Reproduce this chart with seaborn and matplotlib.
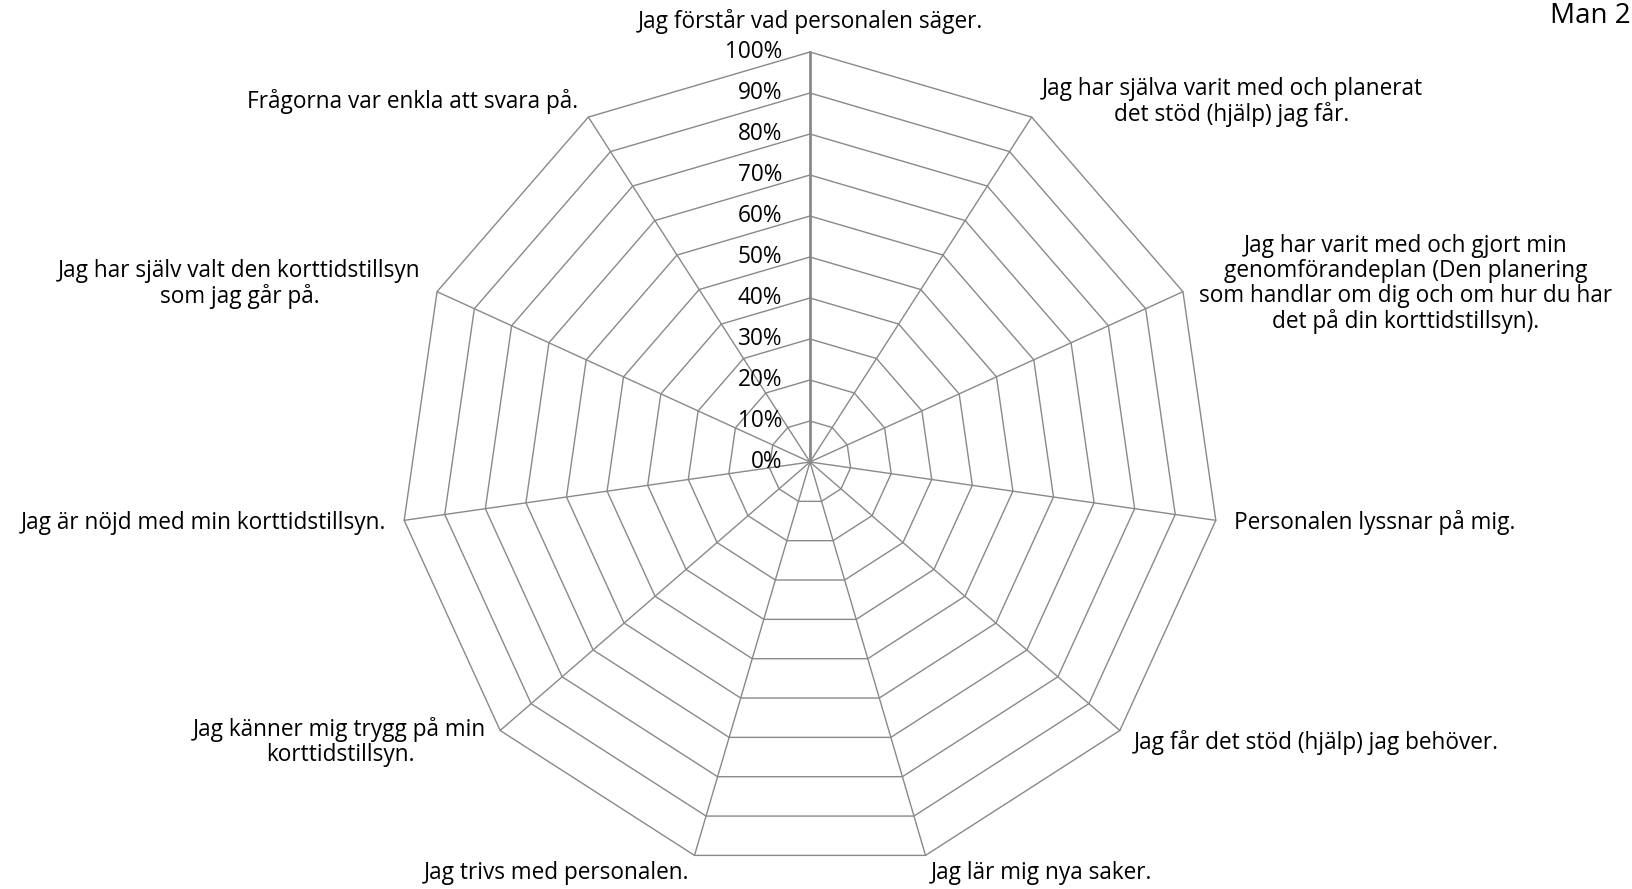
import numpy as np
import pandas as pd
import matplotlib
matplotlib.use("Agg")
import matplotlib.pyplot as plt
import seaborn as sns

categories = [
    "Jag förstår vad personalen säger.",
    "Jag har själva varit med och planerat\ndet stöd (hjälp) jag får.",
    "Jag har varit med och gjort min\ngenomförandeplan (Den planering\nsom handlar om dig och om hur du har\ndet på din korttidstillsyn).",
    "Personalen lyssnar på mig.",
    "Jag får det stöd (hjälp) jag behöver.",
    "Jag lär mig nya saker.",
    "Jag trivs med personalen.",
    "Jag känner mig trygg på min\nkorttidstillsyn.",
    "Jag är nöjd med min korttidstillsyn.",
    "Jag har själv valt den korttidstillsyn\nsom jag går på.",
    "Frågorna var enkla att svara på.",
]
levels = [0, 10, 20, 30, 40, 50, 60, 70, 80, 90, 100]
tick_labels = ["0%", "10%", "20%", "30%", "40%", "50%", "60%", "70%", "80%", "90%", "100%"]
title_text = "Man 2"

sns.set_theme(style="white")
plt.rcParams["font.family"] = ["Open Sans", "DejaVu Sans"]

W, H = 1633, 889
CX, CY = 810, 462      # centre in pixels (from top-left)
R = 410                # radius in pixels for 100%
GRID = "#898989"

fig = plt.figure(figsize=(W / 100, H / 100), dpi=100)
ax = fig.add_axes([0, 0, 1, 1])
ax.set_xlim(-CX, W - CX)
ax.set_ylim(-(H - CY), CY)
ax.set_axis_off()

n = len(categories)
angles = np.arange(n) * 2 * np.pi / n   # clockwise from top

# rings
rows = []
for lv in levels[1:]:
    r = lv / 100 * R
    for k in list(range(n)) + [0]:
        rows.append({"ring": lv, "x": r * np.sin(angles[k]), "y": r * np.cos(angles[k])})
rings = pd.DataFrame(rows)
sns.lineplot(data=rings, x="x", y="y", units="ring", estimator=None, sort=False,
             color=GRID, linewidth=1.0, legend=False, ax=ax)

# spokes
rows = []
for k in range(n):
    rows.append({"spoke": k, "x": 0.0, "y": 0.0})
    rows.append({"spoke": k, "x": R * np.sin(angles[k]), "y": R * np.cos(angles[k])})
spokes = pd.DataFrame(rows)
sns.lineplot(data=spokes[spokes.spoke > 0], x="x", y="y", units="spoke", estimator=None, sort=False,
             color=GRID, linewidth=1.0, legend=False, ax=ax)
sns.lineplot(data=spokes[spokes.spoke == 0], x="x", y="y", units="spoke", estimator=None, sort=False,
             color=GRID, linewidth=2.0, legend=False, ax=ax)
ax.set_xlabel("")
ax.set_ylabel("")

# category labels
FS = 16.3
d = 18
for k, lab in enumerate(categories):
    s, c = np.sin(angles[k]), np.cos(angles[k])
    x = (R + d) * s
    y = (R + d) * c
    if abs(s) < 0.05:
        ha, va = "center", "bottom"
    elif s > 0:
        ha, va = "left", "center"
    else:
        ha, va = "right", "center"
    ax.text(x, y, lab, ha=ha, va=va, multialignment="center", fontsize=FS,
            color="#000000", linespacing=1.05)

# tick labels
for lv, tl in zip(levels, tick_labels):
    ax.text(-28, lv / 100 * R, tl, ha="right", va="center", fontsize=FS, color="#000000")

fig.text(1550 / W, 1 - 23 / H, title_text, ha="left", va="baseline", fontsize=20, color="#000000")

fig.savefig("out.png", dpi=100, facecolor="white")
